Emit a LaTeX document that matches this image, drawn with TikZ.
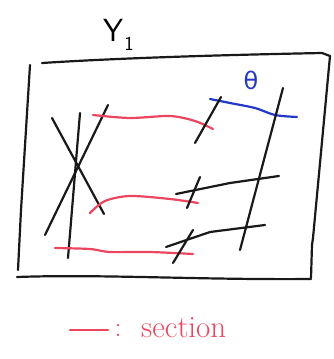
\documentclass[tikz,border=0pt]{standalone}
\usepackage{fontspec}
\newfontfamily\handfont{DejaVu Sans}
\definecolor{sketchred}{RGB}{236,70,95}
\definecolor{sketchblue}{RGB}{35,55,200}
\definecolor{ink}{RGB}{25,25,25}
\begin{document}
\begin{tikzpicture}[x=1pt,y=-1pt,
  ink/.style={draw=ink,line width=2.2pt,line cap=round,line join=round},
  sec/.style={draw=sketchred,line width=2.2pt,line cap=round},
  blu/.style={draw=sketchblue,line width=2.2pt,line cap=round}]
\useasboundingbox (0,0) rectangle (334,359);
% frame
\draw[ink] (42,63) .. controls (120,58) and (220,55) .. (322,53) -- (330,56);
\draw[ink] (330,56) -- (313,238) -- (312,245) -- (311,278);
\draw[ink] (30,65) -- (21,210) -- (18,270);
\draw[ink] (17,277) .. controls (100,274) and (200,280) .. (311,279);
% label
\node[font=\fontsize{32}{32}\selectfont\sffamily,inner sep=0pt] (ylab) at (113,30) {Y};
\node[font=\fontsize{20}{20}\selectfont\sffamily,inner sep=0pt] (ysub) at (129,44) {1};
% X structure
\draw[ink] (52,118) -- (104,214);
\draw[ink] (108,105) -- (45,235);
\draw[ink] (80,113) -- (68,258);
% red sections
\draw[sec] plot[smooth] coordinates {(93,115) (130,118) (170,116) (195,121) (213,129)};
\draw[sec] plot[smooth] coordinates {(90,213) (105,201) (130,196) (170,199) (198,203)};
\draw[sec] plot[smooth] coordinates {(55,248) (90,249) (110,252) (150,252) (193,254)};
% blue line and theta
\draw[blu] plot[smooth] coordinates {(210,99) (230,103) (255,108) (275,115) (297,117)};
\node[text=sketchblue,font=\fontsize{24}{24}\selectfont\handfont,inner sep=0pt] (theta) at (251,80) {θ};
% black lines right
\draw[ink] (221,97) -- (195,143);
\draw[ink] (283,88) -- (240,250);
\draw[ink] (176,194) -- (230,183) -- (279,176);
\draw[ink] (200,177) -- (187,208);
\draw[ink] (166,247) -- (210,232) -- (265,225);
\draw[ink] (193,230) -- (173,263);
% legend
\draw[sec] (70,330) -- (108,330);
\node[text=sketchred,font=\fontsize{28}{28}\selectfont,inner sep=0pt] (colon) at (118,330) {:};
\node[text=sketchred,font=\fontsize{31}{31}\selectfont,inner sep=0pt,anchor=west] (leg) at (141,328) {section};
\end{tikzpicture}
\end{document}
